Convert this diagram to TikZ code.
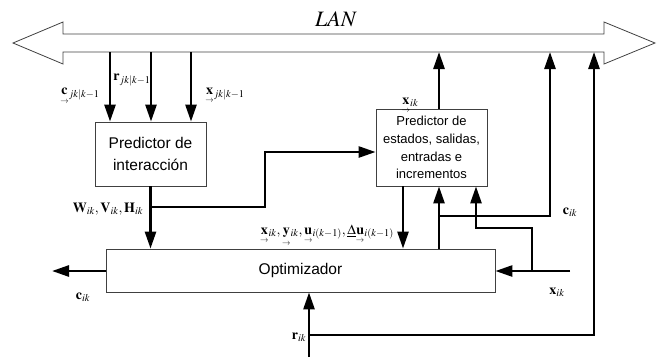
\documentclass[tikz,border=0pt]{standalone}
\usepackage{amsmath}
\usepackage{mathptmx}
\usepackage[no-math]{fontspec}
\newfontfamily\arialfont{Liberation Sans}
\usetikzlibrary{arrows.meta}
\tikzset{
  blk/.style={draw=black!75, line width=0.8pt, fill=white, align=center, inner sep=0pt, font=\arialfont\fontsize{15.5}{21.5}\selectfont},
  conn/.style={line width=2.6pt, -{Triangle[length=17pt,width=11pt]}},
  lbl/.style={font=\fontsize{14}{16}\selectfont, inner sep=0pt}
}
\newcommand{\uv}[1]{{\smash[b]{\underset{\scriptscriptstyle\rightarrow}{\mathbf{#1}}}}}
\begin{document}
\begin{tikzpicture}[x=1pt,y=-1pt]

\useasboundingbox (0,0) rectangle (660,362);

\draw[black!75, line width=0.8pt] (13,43) -- (63,22) -- (63,34) -- (604,34) -- (604,22) -- (655,43) -- (604,64) -- (604,52) -- (63,52) -- (63,64) -- cycle;
\node[font=\fontsize{22}{24}\selectfont] (lan) at (336,19) {$LAN$};

\node[blk, minimum width=111pt, minimum height=64pt] (predint) at (150.5,154) {Predictor de\\interacción};
\node[blk, minimum width=111pt, minimum height=77pt, font=\arialfont\fontsize{13}{17.7}\selectfont] (predest) at (431.5,147.5) {Predictor de\\estados, salidas,\\entradas e\\incrementos};
\node[blk, minimum width=389pt, minimum height=43pt] (optim) at (300.5,270.5) {Optimizador};

\coordinate (inc) at (110,52);
\coordinate (inr) at (151,52);
\coordinate (inx) at (191,52);
\coordinate (outx) at (439,52);
\coordinate (outc) at (550,52);
\coordinate (inref) at (594,52);

\foreach \c in {inc,inr,inx} {
    \draw[conn] (\c) -- (\c |- predint.north);
}

\coordinate (wvh) at (151,207);
\coordinate (bend) at (265,152);
\draw[conn] (predint.south) -- (predint.south |- optim.north);
\draw[conn] (wvh) -| (bend) -- (bend -| predest.west);

\draw[conn] (outx |- predest.north) -- (outx);
\coordinate (dn) at (403,232);
\draw[conn] (dn |- predest.south) -- (dn |- optim.north);
\coordinate (cj) at (439,216);
\draw[conn] (cj |- optim.north) -- (cj |- predest.south);
\draw[conn] (cj) -| (outc);

\coordinate (xin) at (570,271);
\coordinate (xj) at (532,271);
\coordinate (xb) at (476,228);
\draw[conn] (xin) -- (xin -| optim.east);
\draw[conn] (xj) |- (xb) -- (xb |- predest.south);

\coordinate (cout) at (52,271);
\draw[conn] (cout -| optim.west) -- (cout);

\coordinate (rin) at (309,357);
\coordinate (rj) at (309,335);
\draw[conn] (rin) -- (rin |- optim.south);
\draw[conn] (rj) -| (inref);

\node[lbl] (lc) at (80,94) {$\uv{c}_{jk|k-1}$};
\node[lbl] (lr) at (132,80) {$\mathbf{r}_{jk|k-1}$};
\node[lbl] (lx) at (225,94) {$\uv{x}_{jk|k-1}$};
\node[lbl] (lw) at (108,209) {$\mathbf{W}_{ik},\mathbf{V}_{ik},\mathbf{H}_{ik}$};
\node[lbl] (lxe) at (410,102) {$\uv{x}_{ik}$};
\node[lbl] (lp) at (327,232) {$\uv{x}_{ik},\uv{y}_{ik},\uv{u}_{i(k-1)},\underline{\Delta}\uv{u}_{i(k-1)}$};
\node[lbl] (lci) at (570,212) {$\mathbf{c}_{ik}$};
\node[lbl] (lxi) at (557,292) {$\mathbf{x}_{ik}$};
\node[lbl] (lco) at (83,297) {$\mathbf{c}_{ik}$};
\node[lbl] (lri) at (299,337) {$\mathbf{r}_{ik}$};

\end{tikzpicture}
\end{document}
